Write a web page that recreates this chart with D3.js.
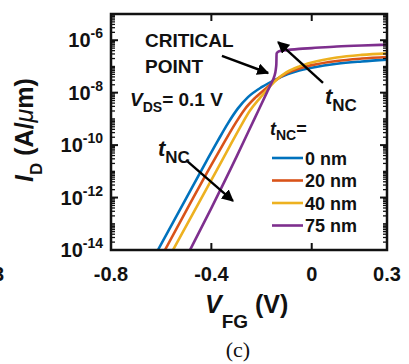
<!DOCTYPE html>
<html>
<head>
<meta charset="utf-8">
<script src="https://cdn.jsdelivr.net/npm/d3@7"></script>
<style>
  body { margin: 0; background: #fff; }
  svg { display: block; }
  text { font-family: "Liberation Sans", Arial, sans-serif; font-weight: bold; fill: #111; }
</style>
</head>
<body>
<svg id="chart" width="409" height="364"></svg>
<script>
// tNC series: V_FG (V) and log10(I_D) in A/um
const tncLabels = ['0 nm', '20 nm', '40 nm', '75 nm'];
const colours = ['#0072BD', '#D95319', '#EDB120', '#7E2F8E'];

const vfg0 = [-0.613, -0.50, -0.42, -0.374, -0.334, -0.294, -0.254, -0.198, -0.146, -0.095, -0.05, 0.0, 0.1, 0.2, 0.3];
const logId0 = [-14, -12.02, -10.62, -9.83, -9.17, -8.6, -8.17, -7.78, -7.51, -7.29, -7.15, -7.05, -6.9, -6.81, -6.74];

const vfg20 = [-0.585, -0.50, -0.40, -0.346, -0.306, -0.266, -0.226, -0.178, -0.146, -0.10, -0.05, 0.0, 0.1, 0.2, 0.3];
const logId20 = [-14, -12.5, -10.75, -9.85, -9.2, -8.62, -8.2, -7.8, -7.54, -7.26, -7.08, -6.95, -6.79, -6.7, -6.64];

const vfg40 = [-0.553, -0.45, -0.38, -0.326, -0.286, -0.246, -0.206, -0.166, -0.146, -0.10, -0.05, 0.0, 0.1, 0.2, 0.3];
const logId40 = [-14, -12.2, -10.98, -10.03, -9.33, -8.68, -8.2, -7.76, -7.56, -7.22, -7.0, -6.85, -6.66, -6.56, -6.5];

const vfg75 = [-0.485, -0.40, -0.30, -0.226, -0.178, -0.16, -0.15, -0.143, -0.141, -0.140, -0.130, -0.11, -0.05, 0.0, 0.1, 0.2, 0.3];
const logId75 = [-14, -12.4, -10.45, -8.95, -7.98, -7.62, -7.4, -7.1, -6.9, -6.5, -6.42, -6.39, -6.33, -6.3, -6.24, -6.2, -6.17];

const xTicks = [-0.8, -0.4, 0, 0.3];
const xTickLabels = ['-0.8', '-0.4', '0', '0.3'];
const yTickExps = [-14, -12, -10, -8, -6];

const series = [
  { v: vfg0, e: logId0 },
  { v: vfg20, e: logId20 },
  { v: vfg40, e: logId40 },
  { v: vfg75, e: logId75 }
];

const svg = d3.select('#chart');
const margin = { left: 111, right: 22, top: 14, bottom: 114 };
const W = 409, H = 364;

const x = d3.scaleLinear().domain([-0.8, 0.3]).range([margin.left, W - margin.right]);
const y = d3.scaleLog().domain([1e-14, 1e-5]).range([H - margin.bottom, margin.top]);
const x0 = x.range()[0], x1 = x.range()[1], y0 = y.range()[0], y1 = y.range()[1];

const defs = svg.append('defs');
defs.append('clipPath').attr('id', 'clip')
  .append('rect').attr('x', x0).attr('y', y1).attr('width', x1 - x0).attr('height', y0 - y1);

defs.append('marker')
  .attr('id', 'arrow').attr('viewBox', '0 0 10 10')
  .attr('refX', 9).attr('refY', 5)
  .attr('markerWidth', 5).attr('markerHeight', 5)
  .attr('markerUnits', 'strokeWidth')
  .attr('orient', 'auto')
  .append('path').attr('d', 'M0,0 L10,5 L0,10 Z').attr('fill', '#000');

// curves
const line = d3.line()
  .x(d => x(d[0]))
  .y(d => y(Math.pow(10, d[1])))
  .curve(d3.curveMonotoneX);

svg.append('g').attr('clip-path', 'url(#clip)')
  .selectAll('path').data(series).enter()
  .append('path')
  .attr('d', s => line(s.v.map((v, i) => [v, s.e[i]])))
  .attr('fill', 'none')
  .attr('stroke', (s, i) => colours[i])
  .attr('stroke-width', 2.6);

// frame + ticks
const axis = svg.append('g').attr('stroke', '#111').attr('fill', 'none');
axis.append('rect').attr('x', x0).attr('y', y1).attr('width', x1 - x0).attr('height', y0 - y1)
  .attr('stroke-width', 2.5);

xTicks.forEach(t => {
  axis.append('line').attr('x1', x(t)).attr('x2', x(t)).attr('y1', y0).attr('y2', y0 - 7).attr('stroke-width', 2);
  axis.append('line').attr('x1', x(t)).attr('x2', x(t)).attr('y1', y1).attr('y2', y1 + 7).attr('stroke-width', 2);
});

for (let e = -14; e < -5; e++) {
  for (let k = 1; k < 10; k++) {
    const val = k * Math.pow(10, e);
    const major = k === 1 && e % 2 === 0;
    const len = major ? 7 : 4;
    const yy = y(val);
    axis.append('line').attr('x1', x0).attr('x2', x0 + len).attr('y1', yy).attr('y2', yy).attr('stroke-width', major ? 2 : 1.3);
    axis.append('line').attr('x1', x1).attr('x2', x1 - len).attr('y1', yy).attr('y2', yy).attr('stroke-width', major ? 2 : 1.3);
  }
}

// tick labels
svg.selectAll('.xl').data(xTicks).enter().append('text')
  .attr('class', 'xl')
  .attr('x', d => x(d)).attr('y', 281)
  .attr('text-anchor', 'middle').attr('font-size', 20)
  .text((d, i) => xTickLabels[i]);

const yl = svg.selectAll('.yl').data(yTickExps).enter().append('text')
  .attr('class', 'yl')
  .attr('x', 103).attr('y', d => y(Math.pow(10, d)) + 7)
  .attr('text-anchor', 'end').attr('font-size', 20);
yl.append('tspan').text('10');
yl.append('tspan').attr('font-size', 14).attr('dy', -9).text(d => String(d));

// stray label from the neighbouring panel
svg.append('text').attr('x', 4).attr('y', 281).attr('text-anchor', 'end').attr('font-size', 20).text('3');

// axis titles
const xt = svg.append('text').attr('x', 205).attr('y', 313).attr('font-size', 25);
xt.append('tspan').attr('font-style', 'italic').text('V');
xt.append('tspan').attr('font-size', 19).attr('dy', 15).text('FG');
xt.append('tspan').attr('dy', -15).text(' (V)');

const yt = svg.append('text').attr('transform', 'translate(33,130) rotate(-90)')
  .attr('text-anchor', 'middle').attr('font-size', 25);
yt.append('tspan').attr('font-style', 'italic').text('I');
yt.append('tspan').attr('font-size', 17).attr('dy', 9).text('D');
yt.append('tspan').attr('dy', -9).text(' (A/');
yt.append('tspan').attr('font-style', 'italic').style('font-weight', 'normal').text('μ');
yt.append('tspan').text('m)');

svg.append('text').attr('x', 238).attr('y', 357).attr('text-anchor', 'middle')
  .attr('font-size', 22)
  .style('font-weight', 'normal')
  .style('font-family', '"Liberation Serif", "Times New Roman", serif')
  .text('(c)');

// annotations (positions in data units)
const arrows = [
  { from: [-0.358, -6.60], to: [-0.174, -7.25] },
  { from: [0.045, -7.63], to: [-0.134, -6.07] },
  { from: [-0.501, -10.57], to: [-0.314, -12.13] }
];
svg.selectAll('.arr').data(arrows).enter().append('line')
  .attr('class', 'arr')
  .attr('x1', d => x(d.from[0])).attr('y1', d => y(Math.pow(10, d.from[1])))
  .attr('x2', d => x(d.to[0])).attr('y2', d => y(Math.pow(10, d.to[1])))
  .attr('stroke', '#000').attr('stroke-width', 2.4)
  .attr('marker-end', 'url(#arrow)');

svg.append('text').attr('x', 145).attr('y', 47).attr('font-size', 19).text('CRITICAL');
svg.append('text').attr('x', 145).attr('y', 73).attr('font-size', 19).text('POINT');

const vds = svg.append('text').attr('x', 130).attr('y', 106).attr('font-size', 19);
vds.append('tspan').attr('font-style', 'italic').text('V');
vds.append('tspan').attr('font-size', 14).attr('dy', 6).text('DS');
vds.append('tspan').attr('dy', -6).text('= 0.1 V');

function tnc(xx, yy, size, sub, extra) {
  const t = svg.append('text').attr('x', xx).attr('y', yy).attr('font-size', size);
  t.append('tspan').attr('font-style', 'italic').text('t');
  t.append('tspan').attr('font-size', sub).attr('dy', size * 0.3).text('NC');
  if (extra) t.append('tspan').attr('dy', -size * 0.3).text(extra);
}
tnc(325, 104, 22, 17);
tnc(158, 156, 22, 17);
tnc(270, 135, 18, 14, '=');

// legend
const leg = svg.selectAll('.leg').data(tncLabels).enter().append('g')
  .attr('class', 'leg')
  .attr('transform', (d, i) => `translate(272, ${158 + i * 22.5})`);
leg.append('line').attr('x1', 0).attr('x2', 31).attr('y1', 0).attr('y2', 0)
  .attr('stroke', (d, i) => colours[i]).attr('stroke-width', 2.6);
leg.append('text').attr('x', 33).attr('y', 6.5).attr('font-size', 18).text(d => d);
</script>
</body>
</html>
